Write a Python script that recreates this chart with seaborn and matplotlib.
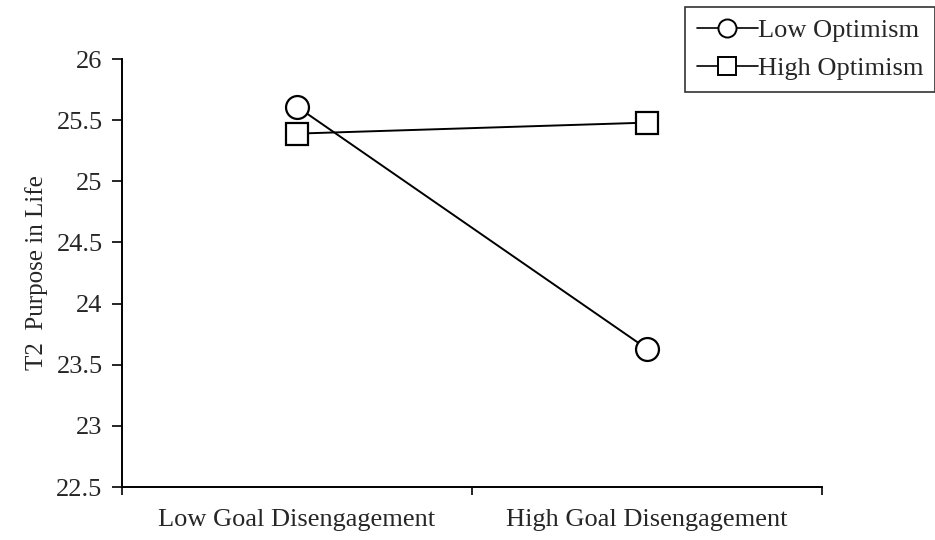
import numpy as np
import pandas as pd
import matplotlib
matplotlib.use("Agg")
import matplotlib.pyplot as plt
import seaborn as sns

sns.set_style("ticks")
plt.rcParams['font.family'] = ['Liberation Serif', 'DejaVu Serif']

categories = ["Low Goal Disengagement", "High Goal Disengagement"]
low_optimism = [25.61, 23.63]
high_optimism = [25.39, 25.48]
groups = ["Low Optimism", "High Optimism"]

df = pd.DataFrame({
    "x": categories * 2,
    "y": low_optimism + high_optimism,
    "group": [groups[0]] * 2 + [groups[1]] * 2,
})

fig = plt.figure(figsize=(9.35, 5.4), dpi=100)
ax = fig.add_axes([0.1305, 0.0981, 0.7487, 0.7926])

sns.lineplot(data=df, x="x", y="y", style="group", markers=["o", "s"],
             dashes=False, color="black", linewidth=1.4, markersize=16.5,
             markerfacecolor="white", markeredgecolor="black",
             markeredgewidth=1.6, ax=ax, legend=False)

ax.set_xlim(-0.5, 1.5)
ax.set_ylim(22.5, 26)
ax.set_yticks(np.arange(22.5, 26.01, 0.5))
ax.set_yticklabels(["22.5", "23", "23.5", "24", "24.5", "25", "25.5", "26"])
ax.set_xticks([0, 1])
ax.set_xticklabels(categories)
ax.set_xticks([-0.5, 0.5, 1.5], minor=True)
ax.tick_params(axis="x", which="major", length=0, pad=16, labelsize=19)
ax.tick_params(axis="x", which="minor", length=6, width=1.4, direction="out")
ax.tick_params(axis="y", length=7, width=1.4, direction="out", pad=7, labelsize=19)
ax.set_xlabel("")
ax.set_ylabel("T2  Purpose in Life", fontsize=18, labelpad=6)

for s in ["top", "right"]:
    ax.spines[s].set_visible(False)
for s in ["left", "bottom"]:
    ax.spines[s].set_linewidth(1.4)
    ax.spines[s].set_color("black")

handles = [
    plt.Line2D([], [], color="black", lw=1.2, marker="o", markersize=13,
               markerfacecolor="white", markeredgewidth=1.4),
    plt.Line2D([], [], color="black", lw=1.2, marker="s", markersize=13,
               markerfacecolor="white", markeredgewidth=1.4),
]
leg = fig.legend(handles, groups, loc="upper right", bbox_to_anchor=(1.0, 0.987),
                 fontsize=19, frameon=True, fancybox=False, handlelength=2.3,
                 handletextpad=0.0, borderpad=0.45, labelspacing=0.55,
                 borderaxespad=0.0)
leg.get_frame().set_edgecolor("black")
leg.get_frame().set_linewidth(1.2)

fig.savefig("out.png", dpi=100)
